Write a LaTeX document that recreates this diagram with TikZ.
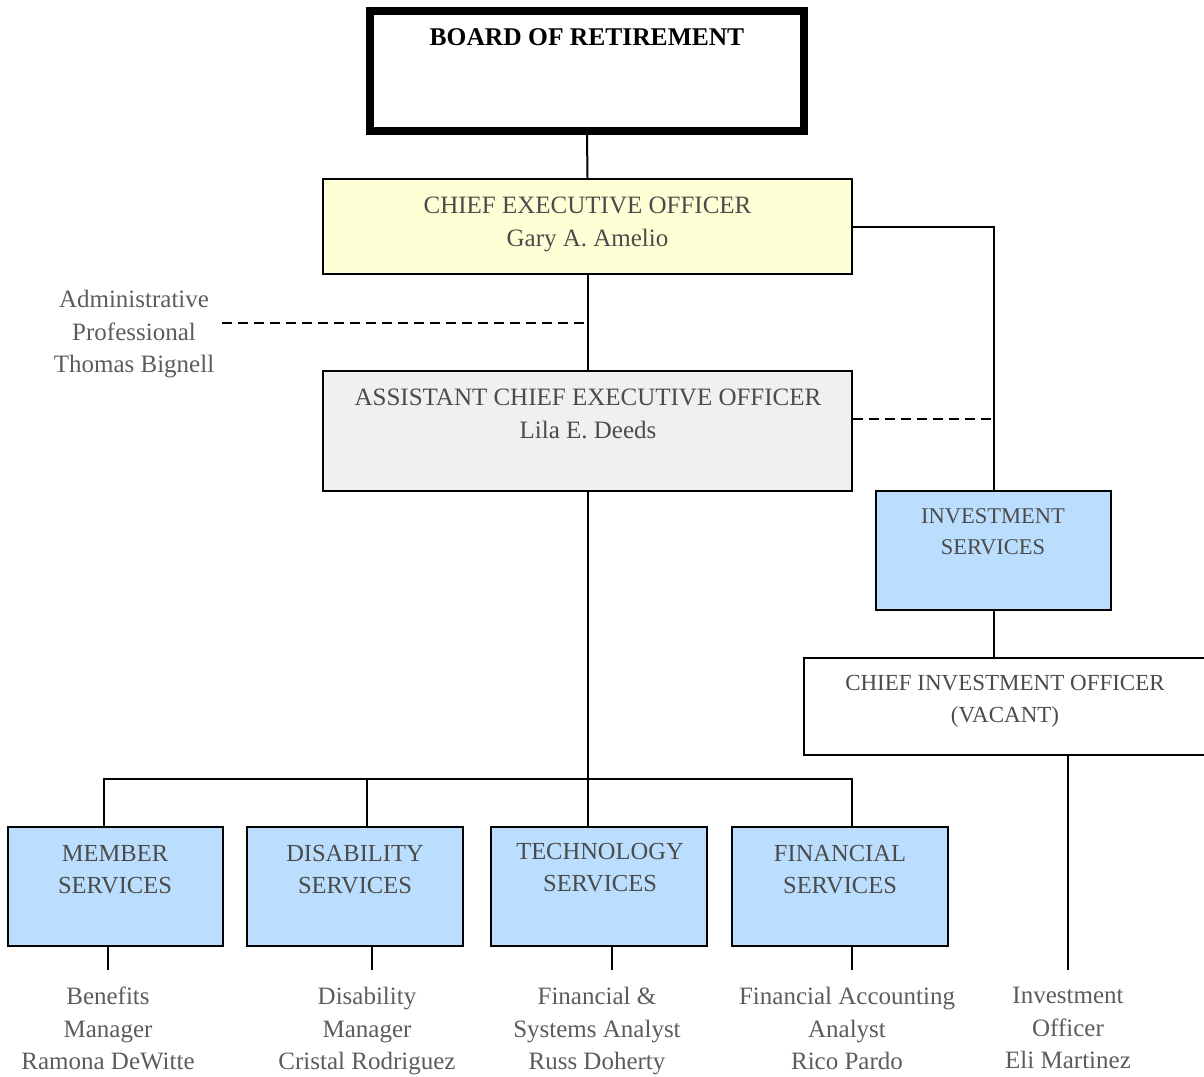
\documentclass[tikz,border=0pt]{standalone}
\usepackage{fontspec}
\setmainfont{Liberation Serif}
\definecolor{yel}{RGB}{255,255,214}
\definecolor{grayfill}{RGB}{240,240,240}
\definecolor{bluefill}{RGB}{187,222,255}
\definecolor{boxtxt}{RGB}{75,75,75}
\definecolor{pertxt}{RGB}{92,92,92}
\begin{document}
\begin{tikzpicture}[x=1pt,y=-1pt,
  box/.style={draw=black, line width=2.5pt, rectangle, inner sep=0pt},
  conn/.style={line width=2pt},
  dashline/.style={line width=2pt, dash pattern=on 10pt off 6pt},
  txt/.style={inner sep=0pt, anchor=north, align=center, text=boxtxt, font=\fontsize{25}{32.5}\selectfont},
  ptxt/.style={txt, text=pertxt},
  btxt/.style={txt, font=\fontsize{24.5}{32}\selectfont}
]
\useasboundingbox (0,0) rectangle (1204,1076);

% boxes
\node[box, line width=8pt, minimum width=434pt, minimum height=120pt] (board) at (587,71) {};
\node[box, fill=yel, minimum width=529pt, minimum height=95pt] (ceo) at (587.5,226.5) {};
\node[box, fill=grayfill, minimum width=529pt, minimum height=120pt] (aceo) at (587.5,431) {};
\node[box, fill=bluefill, minimum width=235pt, minimum height=119pt] (inv) at (993.5,550.5) {};
\node[box, fill=white, minimum width=404pt, minimum height=97pt] (cio) at (1006,706.5) {};
\node[box, fill=bluefill, minimum width=215pt, minimum height=119pt] (mem) at (115.5,886.5) {};
\node[box, fill=bluefill, minimum width=216pt, minimum height=119pt] (dis) at (355,886.5) {};
\node[box, fill=bluefill, minimum width=216pt, minimum height=119pt] (tech) at (599,886.5) {};
\node[box, fill=bluefill, minimum width=216pt, minimum height=119pt] (fin) at (840,886.5) {};

% box texts
\node[txt, text=black, font={\fontsize{25.5}{30}\selectfont\bfseries}] (boardT) at (587,28) {BOARD OF RETIREMENT};
\node[txt] (ceoT) at (587.5,197) {CHIEF EXECUTIVE OFFICER\\Gary A. Amelio};
\node[ptxt] (adm) at (134,290) {Administrative\\Professional\\Thomas Bignell};
\node[txt] (aceoT) at (588,389) {ASSISTANT CHIEF EXECUTIVE OFFICER\\Lila E. Deeds};
\node[txt, font=\fontsize{22.5}{31}\selectfont] (invT) at (993,508) {INVESTMENT\\SERVICES};
\node[txt, font=\fontsize{23}{32}\selectfont] (cioT) at (1005,675) {CHIEF INVESTMENT OFFICER\\(VACANT)};
\node[btxt] (memT) at (115,845) {MEMBER\\SERVICES};
\node[btxt] (disT) at (355,845) {DISABILITY\\SERVICES};
\node[btxt] (techT) at (600,843) {TECHNOLOGY\\SERVICES};
\node[btxt] (finT) at (840,845) {FINANCIAL\\SERVICES};

% persons
\node[ptxt] (memP) at (108,987) {Benefits\\Manager\\Ramona DeWitte};
\node[ptxt] (disP) at (367,987) {Disability\\Manager\\Cristal Rodriguez};
\node[ptxt] (techP) at (597,987) {Financial \&\\Systems Analyst\\Russ Doherty};
\node[ptxt] (finP) at (847,987) {Financial Accounting\\Analyst\\Rico Pardo};
\node[ptxt] (invP) at (1068,987) {Investment\\Officer\\Eli Martinez};

% connectors
\draw[conn] (board.south) -- (ceo.north);
\draw[conn] (ceo.south) -- (aceo.north);
\draw[conn] (ceo.east) -| (inv.north);
\coordinate (admR) at (222,323);
\coordinate (admL) at (584,323);
\draw[dashline] (admR) -- (admL);
\path (aceo.east) ++(0,-12) coordinate (acR);
\draw[dashline] (acR) -- (acR -| inv.north);
\draw[conn] (inv.south) -- (inv.south |- cio.north);

\coordinate (busL) at (104,779);
\coordinate (busM) at (367,779);
\coordinate (busR) at (852,779);
\draw[conn] (aceo.south) -- (aceo.south |- tech.north);
\draw[conn] (busL |- mem.north) -- (busL) -- (busR) -- (busR |- fin.north);
\draw[conn] (busM) -- (busM |- dis.north);

\coordinate (dMem) at (108,970);
\coordinate (dDis) at (372,970);
\coordinate (dTech) at (612,970);
\coordinate (dFin) at (852,970);
\coordinate (dInv) at (1068,970);
\draw[conn] (dMem |- mem.south) -- (dMem);
\draw[conn] (dDis |- dis.south) -- (dDis);
\draw[conn] (dTech |- tech.south) -- (dTech);
\draw[conn] (dFin |- fin.south) -- (dFin);
\draw[conn] (dInv |- cio.south) -- (dInv);
\end{tikzpicture}
\end{document}
